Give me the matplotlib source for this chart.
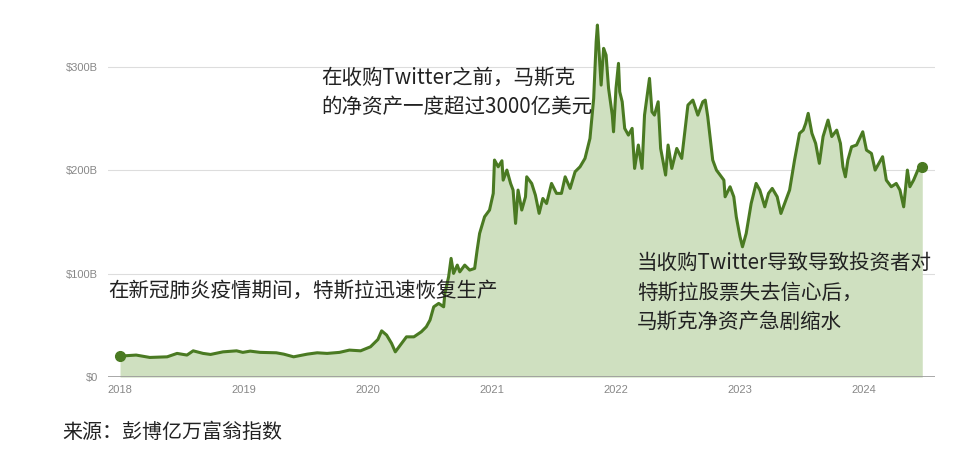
import matplotlib
matplotlib.use('Agg')
import matplotlib.pyplot as plt

plt.rcParams['font.family'] = ['Noto Sans CJK SC', 'DejaVu Sans']

# fecha en años decimales, patrimonio neto en miles de millones de USD
years = [
    2018.00, 2018.13, 2018.24, 2018.38, 2018.46, 2018.54, 2018.59, 2018.67, 2018.73, 2018.83,
    2018.94, 2018.99, 2019.05, 2019.13, 2019.26, 2019.32, 2019.40, 2019.51, 2019.59, 2019.67,
    2019.77, 2019.85, 2019.94, 2020.02, 2020.08, 2020.11, 2020.15, 2020.19, 2020.22, 2020.26,
    2020.31, 2020.37, 2020.43, 2020.47, 2020.50, 2020.53, 2020.57, 2020.61, 2020.62, 2020.65,
    2020.67, 2020.69, 2020.72, 2020.74, 2020.78, 2020.82, 2020.86, 2020.88, 2020.90, 2020.94,
    2020.98, 2021.01, 2021.02, 2021.05, 2021.08, 2021.09, 2021.12, 2021.15, 2021.17, 2021.19,
    2021.21, 2021.24, 2021.27, 2021.28, 2021.32, 2021.35, 2021.38, 2021.41, 2021.44, 2021.48,
    2021.52, 2021.56, 2021.59, 2021.63, 2021.67, 2021.71, 2021.75, 2021.79, 2021.82, 2021.84,
    2021.85, 2021.87, 2021.88, 2021.90, 2021.92, 2021.94, 2021.97, 2021.98, 2022.00, 2022.02,
    2022.03, 2022.05, 2022.07, 2022.10, 2022.13, 2022.15, 2022.18, 2022.21, 2022.23, 2022.27,
    2022.29, 2022.31, 2022.34, 2022.36, 2022.40, 2022.42, 2022.45, 2022.49, 2022.53, 2022.58,
    2022.62, 2022.66, 2022.70, 2022.72, 2022.74, 2022.78, 2022.81, 2022.87, 2022.88, 2022.92,
    2022.95, 2022.97, 2023.00, 2023.02, 2023.05, 2023.09, 2023.13, 2023.16, 2023.20, 2023.23,
    2023.26, 2023.30, 2023.33, 2023.36, 2023.40, 2023.44, 2023.48, 2023.51, 2023.53, 2023.55,
    2023.58, 2023.61, 2023.64, 2023.67, 2023.71, 2023.74, 2023.78, 2023.81, 2023.83, 2023.85,
    2023.87, 2023.90, 2023.94, 2023.99, 2024.02, 2024.06, 2024.09, 2024.12, 2024.15, 2024.18,
    2024.22, 2024.26, 2024.29, 2024.32, 2024.35, 2024.37, 2024.40, 2024.44, 2024.47,
]
net_worth = [
    20.3, 21.3, 19.0, 19.6, 22.9, 21.3, 25.4, 22.9, 21.9, 24.4,
    25.4, 23.9, 25.1, 23.9, 23.5, 22.2, 19.6, 22.2, 23.5, 22.9,
    23.9, 26.1, 25.4, 29.3, 36.4, 44.7, 40.6, 32.6, 24.4, 30.9,
    38.9, 38.9, 43.8, 48.6, 55.1, 67.9, 71.2, 67.9, 80.9, 96.9,
    114.7, 100.2, 108.2, 101.7, 108.2, 103.4, 105.0, 122.7, 138.8, 154.9,
    161.4, 177.5, 209.7, 203.2, 209.0, 190.3, 200.0, 187.1, 180.7, 148.5,
    180.7, 161.4, 174.2, 193.5, 187.1, 175.8, 158.2, 172.6, 167.7, 187.1,
    177.5, 177.5, 193.5, 182.3, 198.4, 203.2, 211.3, 230.6, 269.3, 324.0,
    340.1, 301.4, 282.1, 317.6, 311.1, 279.0, 253.1, 237.0, 279.0, 303.1,
    275.7, 266.0, 240.3, 233.8, 240.3, 201.6, 224.2, 201.6, 253.1, 288.6,
    256.3, 253.1, 266.0, 220.9, 195.2, 224.2, 201.6, 220.9, 211.3, 262.8,
    267.6, 253.1, 266.0, 267.6, 251.5, 209.7, 200.0, 190.3, 174.2, 183.9,
    174.2, 154.9, 135.6, 125.9, 138.8, 167.7, 187.1, 180.7, 164.5, 177.5,
    182.3, 174.2, 158.1, 167.7, 180.7, 209.7, 235.5, 238.6, 245.1, 254.8,
    235.5, 225.8, 206.5, 232.4, 248.3, 232.4, 238.6, 225.8, 203.2, 193.5,
    209.7, 222.5, 224.2, 237.0, 219.3, 216.1, 200.0, 206.5, 212.9, 190.3,
    183.9, 187.1, 180.7, 164.5, 200.0, 183.9, 190.3, 201.6, 203.2,
]

y_ticks = [0, 100, 200, 300]
y_labels = ['$0', '$100B', '$200B', '$300B']
x_ticks = [2018, 2019, 2020, 2021, 2022, 2023, 2024]

linea = '#4a7a22'
relleno = '#cfe0c0'

fig = plt.figure(figsize=(9.6, 4.65), dpi=100)
ax = fig.add_axes([0.1125, 0.189, 0.8615, 0.768])

ax.fill_between(years, net_worth, 0, color=relleno, lw=0, zorder=1)
ax.plot(years, net_worth, color=linea, lw=2.2, zorder=3, solid_joinstyle='round')
ax.plot([years[0], years[-1]], [net_worth[0], net_worth[-1]], 'o', color=linea, ms=7, zorder=4)

ax.set_xlim(2017.903, 2024.573)
ax.set_ylim(0, 345)

for v in y_ticks[1:]:
    ax.axhline(v, color='#dddddd', lw=0.8, zorder=0)
ax.axhline(0, color='#999999', lw=1.2, zorder=2)

for s in ax.spines.values():
    s.set_visible(False)

ax.set_yticks(y_ticks)
ax.set_yticklabels(y_labels)
ax.set_xticks(x_ticks)
ax.set_xticklabels([str(x) for x in x_ticks])
ax.tick_params(axis='both', length=0, labelsize=8, labelcolor='#888888')
ax.tick_params(axis='y', pad=7)
ax.tick_params(axis='x', pad=6)
for lbl in ax.get_xticklabels() + ax.get_yticklabels():
    lbl.set_family(['Liberation Sans', 'DejaVu Sans'])

# anotaciones
fig.text(321 / 960, 0.801, '在收购Twitter之前，马斯克\n的净资产一度超过3000亿美元',
         fontsize=14.8, color='#222222', va='center', ha='left', linespacing=1.42)
fig.text(108 / 960, 0.374, '在新冠肺炎疫情期间，特斯拉迅速恢复生产',
         fontsize=14.8, color='#222222', va='center', ha='left')
fig.text(637 / 960, 0.371, '当收购Twitter导致导致投资者对\n特斯拉股票失去信心后，\n马斯克净资产急剧缩水',
         fontsize=14.8, color='#222222', va='center', ha='left', linespacing=1.42)
fig.text(62 / 960, 0.071, '来源：彭博亿万富翁指数',
         fontsize=14.4, color='#222222', va='center', ha='left')

fig.savefig('out.png', dpi=100)
